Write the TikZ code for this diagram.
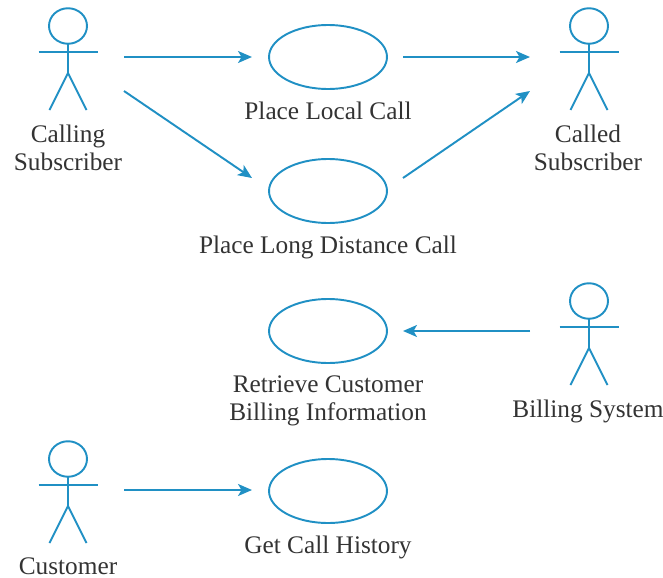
\documentclass[tikz,border=0pt]{standalone}
\usepackage{fontspec}
\setmainfont{Liberation Serif}
\usetikzlibrary{arrows.meta,shapes.geometric}
\definecolor{umlblue}{HTML}{2090C4}
\definecolor{umltext}{HTML}{333333}
\tikzset{
    usecase/.style={draw=umlblue,ellipse,line width=1.1pt,minimum width=2.36cm,minimum height=1.28cm,inner sep=0pt},
    lbl/.style={text=umltext,align=center,font=\fontsize{14.4}{16.1}\selectfont,inner sep=0pt},
    assoc/.style={draw=umlblue,line width=1.1pt,-{Stealth[length=0.28cm,width=0.24cm,inset=0.07cm]}},
    stickman/.pic={
        \draw [umlblue,line width=1.1pt] (0,26) ellipse (0.38cm and 0.355cm);
        \draw [umlblue,line width=1.1pt] (0,43.5)-- (0,73);
        \draw [umlblue,line width=1.1pt] (-29.5,52)-- (29.5,52);
        \draw [umlblue,line width=1.1pt] (-18.5,110)-- (0,73)-- (18.5,110);
    }
}
\begin{document}
\begin{tikzpicture}[line cap=butt,x=0.02cm,y=-0.02cm]
    \useasboundingbox (0,0) rectangle (663,578);
    % actors
    \pic at (68,0) {stickman};
    \pic at (589,0) {stickman};
    \pic at (589,275) {stickman};
    \pic at (68,433) {stickman};
    \node [lbl] (calling) at (68,148) {Calling\\Subscriber};
    \node [lbl] (called) at (588,148) {Called\\Subscriber};
    \node [lbl] (billing) at (588,411) {Billing System};
    \node [lbl] (customer) at (68,566) {Customer};
    % use cases
    \node [usecase] (local) at (328,57) {};
    \node [usecase] (long) at (328,191) {};
    \node [usecase] (retrieve) at (328,331) {};
    \node [usecase] (history) at (328,491) {};
    \node [lbl] (locallbl) at (328,111) {Place Local Call};
    \node [lbl] (longlbl) at (328,247) {Place Long Distance Call};
    \node [lbl] (retrievelbl) at (328,401) {Retrieve Customer\\Billing Information};
    \node [lbl] (historylbl) at (328,547) {Get Call History};
    % free ends of the arrows
    \coordinate (callingA) at (124,57);
    \coordinate (callingB) at (124,91);
    \coordinate (localIn) at (252,57);
    \coordinate (longIn) at (252,178);
    \coordinate (localOut) at (403,57);
    \coordinate (longOut) at (403,178);
    \coordinate (calledA) at (530,57);
    \coordinate (calledB) at (530,91);
    \coordinate (billingA) at (530,331);
    \coordinate (retrieveIn) at (403,331);
    \coordinate (customerA) at (124,490);
    \coordinate (historyIn) at (252,490);
    \draw [assoc] (callingA)-- (localIn);
    \draw [assoc] (callingB)-- (longIn);
    \draw [assoc] (localOut)-- (calledA);
    \draw [assoc] (longOut)-- (calledB);
    \draw [assoc] (billingA)-- (retrieveIn);
    \draw [assoc] (customerA)-- (historyIn);
\end{tikzpicture}
\end{document}
